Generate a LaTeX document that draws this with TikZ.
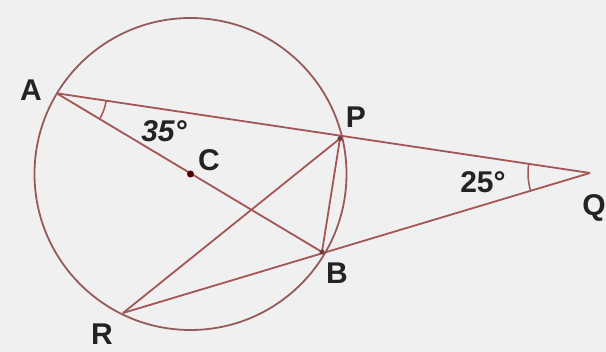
\documentclass[tikz,border=0pt]{standalone}
\usepackage{fontspec}
\setmainfont{Liberation Sans}
\usetikzlibrary{angles}
\definecolor{bg}{RGB}{240,240,240}
\definecolor{geo}{RGB}{165,85,85}
\definecolor{circ}{RGB}{150,90,90}
\definecolor{txt}{RGB}{35,35,35}
\begin{document}
\begin{tikzpicture}[x=1pt,y=-1pt,
  seg/.style={draw=geo,line width=1.8pt},
  lbl/.style={text=txt,font=\fontsize{30}{30}\selectfont\bfseries,inner sep=0pt},
  pt/.style={circle,fill=#1,inner sep=0pt,minimum size=6pt},
  angmark/.style={draw=geo,line width=1.5pt}]
\fill[bg] (0,0) rectangle (606,352);
\useasboundingbox (0,0) rectangle (606,352);
\coordinate (C) at (190.5,174);
\draw[draw=circ,line width=1.8pt] (C) circle[radius=156];
\coordinate (A) at (56.7,93.3);
\coordinate (P) at (340,138.5);
\coordinate (Q) at (590,173);
\coordinate (B) at (322,252);
\coordinate (R) at (123,313);
\draw[seg] (A) -- (Q);
\draw[seg] (A) -- (B);
\draw[seg] (R) -- (Q);
\draw[seg] (R) -- (P);
\draw[seg] (P) -- (B);
\pic[angmark,angle radius=50pt] {angle=B--A--Q};
\pic[angmark,angle radius=62pt] {angle=A--Q--R};
\node[pt=black!70!red,minimum size=7pt] (Cd) at (C) {};
\node[pt=geo!70!black,minimum size=5pt] (Pd) at (P) {};
\node[pt=geo!70!black,minimum size=5pt] (Bd) at (B) {};
\node[lbl] (lA) at (31,90) {A};
\node[lbl] (lP) at (356,117) {P};
\node[lbl] (lQ) at (594,208) {Q};
\node[lbl] (lB) at (337,273) {B};
\node[lbl] (lR) at (102,334) {R};
\node[lbl] (lC) at (209,160) {C};
\node[lbl,font=\fontsize{30}{30}\selectfont\bfseries\itshape] (l35) at (164,131) {35°};
\node[lbl] (l25) at (483,182) {25°};
\end{tikzpicture}
\end{document}
